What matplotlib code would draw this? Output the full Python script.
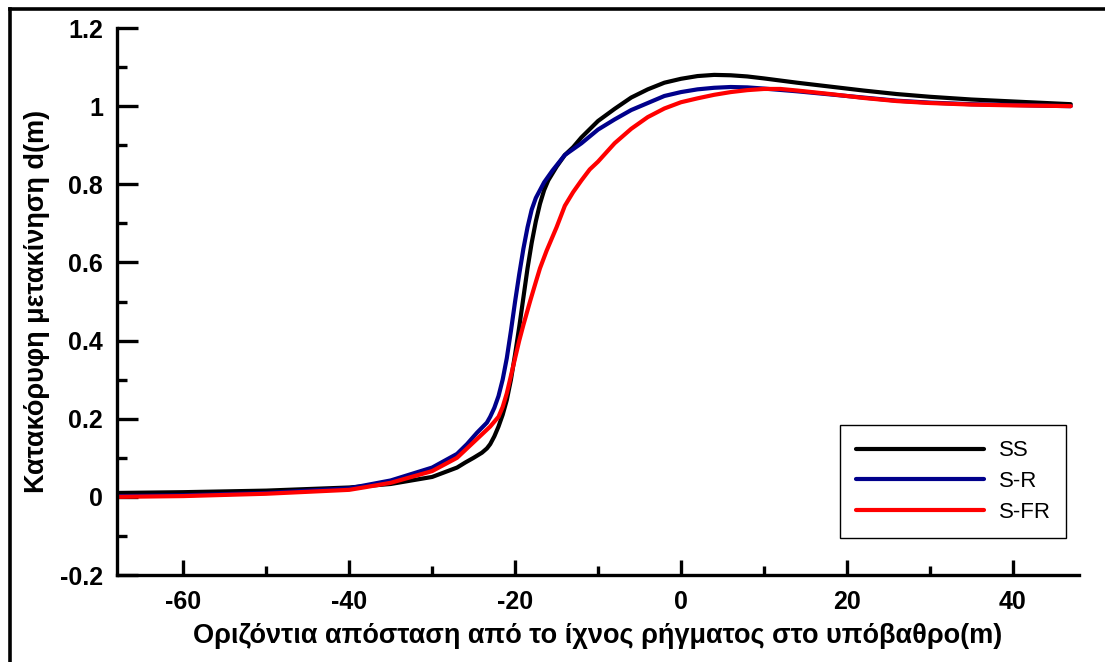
import matplotlib
matplotlib.use("Agg")
import matplotlib.pyplot as plt
from matplotlib.lines import Line2D
from matplotlib.ticker import MultipleLocator

plt.rcParams['font.family'] = ['Liberation Sans', 'DejaVu Sans']
plt.rcParams['axes.unicode_minus'] = False

# Vertical displacement profiles across the fault trace
x_ss = [-68, -60, -50, -40, -35, -30, -27, -26, -25, -24, -23.4, -23, -22.5, -22, -21.5,
        -21, -20.5, -20, -19.5, -19, -18.5, -18, -17.5, -17, -16.5, -16, -15, -14, -13,
        -12, -10, -8, -6, -4, -2, 0, 2, 4, 6, 8, 10, 14, 18, 22, 26, 30, 35, 40, 44, 47]
y_ss = [0.010, 0.012, 0.016, 0.024, 0.033, 0.051, 0.075, 0.088, 0.100, 0.113, 0.124,
        0.135, 0.155, 0.180, 0.210, 0.248, 0.300, 0.365, 0.435, 0.510, 0.585, 0.650,
        0.705, 0.750, 0.785, 0.810, 0.845, 0.875, 0.895, 0.920, 0.962, 0.993, 1.022,
        1.043, 1.060, 1.070, 1.077, 1.080, 1.079, 1.076, 1.071, 1.060, 1.050, 1.040,
        1.031, 1.024, 1.017, 1.012, 1.008, 1.005]

x_sr = [-68, -60, -50, -40, -38, -35, -30, -27, -25.8, -24.6, -23.4, -23, -22.5, -22,
        -21.5, -21, -20.5, -20, -19.5, -19, -18.5, -18, -17.5, -17, -16.5, -15.5, -14,
        -12, -10, -8, -6, -4, -2, 0, 2, 4, 6, 8, 10, 14, 18, 22, 26, 30, 35, 40, 44, 47]
y_sr = [0.002, 0.004, 0.010, 0.022, 0.030, 0.042, 0.075, 0.110, 0.135, 0.164, 0.190,
        0.205, 0.228, 0.258, 0.300, 0.355, 0.425, 0.500, 0.570, 0.635, 0.690, 0.735,
        0.765, 0.785, 0.805, 0.835, 0.875, 0.905, 0.940, 0.966, 0.990, 1.008, 1.026,
        1.036, 1.043, 1.047, 1.049, 1.048, 1.045, 1.038, 1.030, 1.022, 1.014, 1.009,
        1.005, 1.003, 1.001, 1.000]

x_sfr = [-68, -60, -50, -40, -38, -35, -30, -27, -26, -25, -24, -23, -22, -21.5, -21,
         -20.5, -20, -19.5, -19, -18.2, -17.5, -17, -16.2, -15, -14, -13, -12, -11, -10,
         -8, -6, -4, -2, 0, 2, 4, 6, 8, 10, 12, 14, 18, 22, 26, 30, 35, 40, 44, 47]
y_sfr = [0.000, 0.002, 0.008, 0.018, 0.025, 0.036, 0.066, 0.100, 0.120, 0.140, 0.160,
         0.180, 0.205, 0.230, 0.265, 0.310, 0.355, 0.400, 0.440, 0.500, 0.550, 0.585,
         0.630, 0.690, 0.745, 0.780, 0.810, 0.838, 0.858, 0.905, 0.942, 0.972, 0.994,
         1.010, 1.020, 1.029, 1.036, 1.041, 1.044, 1.044, 1.040, 1.031, 1.021, 1.013,
         1.008, 1.004, 1.002, 1.001, 1.000]

series = [("SS", x_ss, y_ss, "#000000"),
          ("S-R", x_sr, y_sr, "#00008B"),
          ("S-FR", x_sfr, y_sfr, "#FF0000")]

fig = plt.figure(figsize=(11.05, 6.62), dpi=100)
ax = fig.add_axes([0.1059, 0.1314, 0.8706, 0.8263])

for name, xs, ys, col in series:
    ax.plot(xs, ys, color=col, lw=3.0, label=name, solid_capstyle='round',
            solid_joinstyle='round')

ax.set_xlim(-68, 48)
ax.set_ylim(-0.2, 1.2)
ax.xaxis.set_major_locator(MultipleLocator(20))
ax.xaxis.set_minor_locator(MultipleLocator(10))
ax.yaxis.set_major_locator(MultipleLocator(0.2))
ax.yaxis.set_minor_locator(MultipleLocator(0.1))
ax.yaxis.set_major_formatter(plt.FuncFormatter(
    lambda v, p: f"{v:.1f}".rstrip('0').rstrip('.') if abs(v) > 1e-9 else "0"))

for s in ("top", "right"):
    ax.spines[s].set_visible(False)
for s in ("left", "bottom"):
    ax.spines[s].set_linewidth(2.4)

ax.tick_params(axis='y', which='major', direction='in', length=15, width=2.4,
               labelsize=18, pad=10)
ax.tick_params(axis='y', which='minor', direction='in', length=7, width=2.4)
ax.tick_params(axis='x', which='major', direction='in', length=11, width=2.4,
               labelsize=18, pad=11)
ax.tick_params(axis='x', which='minor', direction='in', length=6.5, width=2.4)
for lab in ax.get_xticklabels() + ax.get_yticklabels():
    lab.set_fontweight('bold')

ax.set_xlabel("Οριζόντια απόσταση από το ίχνος ρήγματος στο υπόβαθρο(m)",
              fontsize=19.5, fontweight='bold', labelpad=6)
ax.set_ylabel("Κατακόρυφη μετακίνηση d(m)", fontsize=19.5, fontweight='bold',
              labelpad=7)

leg = ax.legend(loc='lower right', bbox_to_anchor=(0.9865, 0.0676),
                borderaxespad=0, fontsize=16, handlelength=5.77,
                handletextpad=0.68, labelspacing=0.44, borderpad=0.68,
                fancybox=False, edgecolor='black', framealpha=1)
leg.get_frame().set_linewidth(1.0)

# outer frame around the figure
fig.add_artist(Line2D([0.0095, 0.0095], [0.0, 0.9863], transform=fig.transFigure,
                      color='black', lw=2.6))
fig.add_artist(Line2D([0.0095, 1.0], [0.9863, 0.9863], transform=fig.transFigure,
                      color='black', lw=2.6))

fig.savefig("out.png", dpi=100)
